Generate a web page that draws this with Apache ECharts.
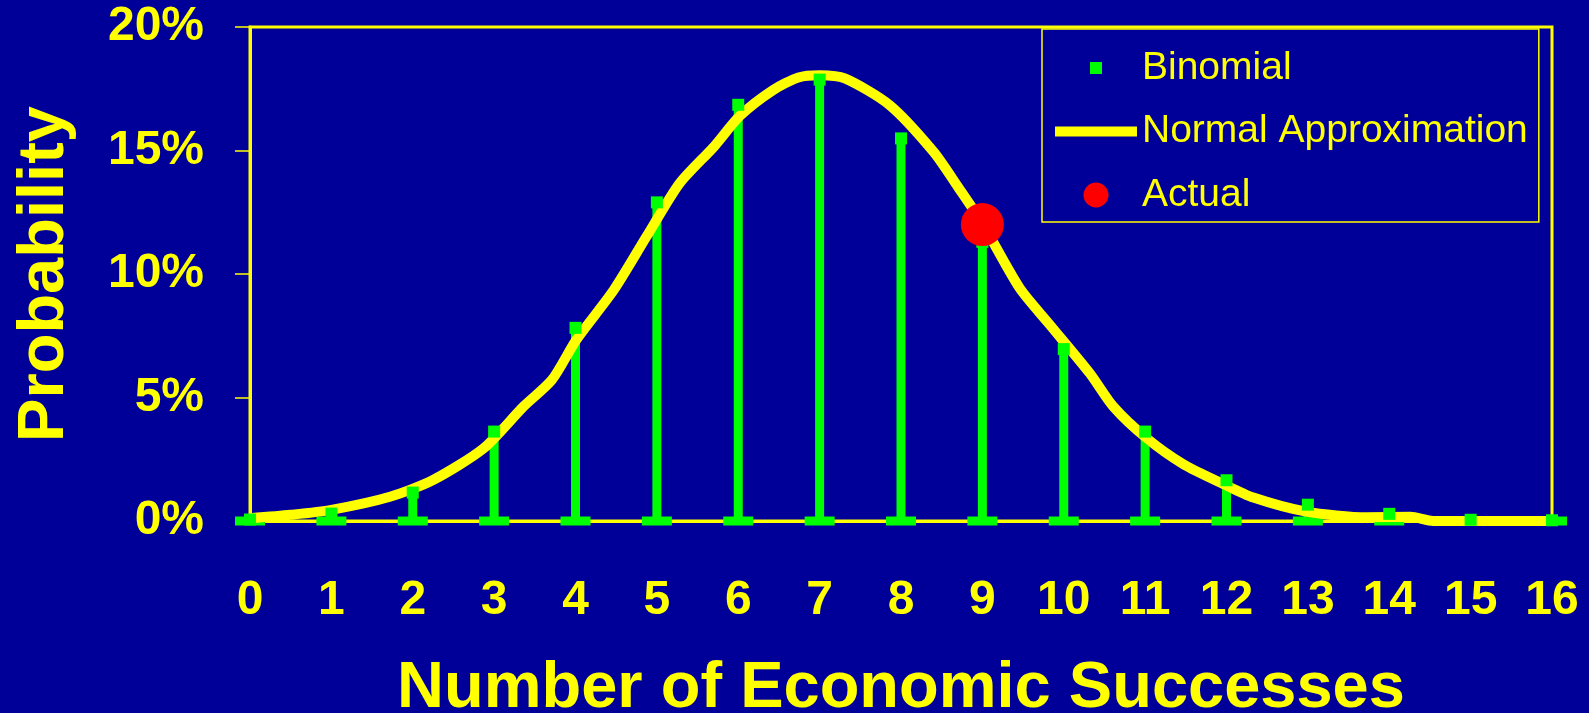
<!DOCTYPE html>
<html>
<head>
<meta charset="utf-8">
<script src="https://cdn.jsdelivr.net/npm/echarts@6/dist/echarts.min.js"></script>
<style>
  html, body { margin: 0; padding: 0; background: #000099; }
  #chart { width: 1589px; height: 713px; }
</style>
</head>
<body>
<div id="chart"></div>
<script>
// ---- data (values in percent) ----
const successes = [0, 1, 2, 3, 4, 5, 6, 7, 8, 9, 10, 11, 12, 13, 14, 15, 16];
const binomial = [0.06, 0.3, 1.15, 3.62, 7.82, 12.9, 16.85, 17.87, 15.49, 11.3, 6.96, 3.62, 1.65, 0.66, 0.29, 0.05, 0.03];
const normalX = [0, 0.5, 1.0, 1.72, 2.25, 2.87, 3.36, 3.71, 4.01, 4.47, 4.87, 5.28, 5.7, 6.02, 6.43, 6.74, 7.0, 7.31, 7.86, 8.4, 8.7, 9.0, 9.46, 9.83, 10.32, 10.61, 11.02, 11.47, 11.96, 12.33, 12.98, 13.72, 14.26, 14.54, 16.31];
const normalY = [0.11, 0.25, 0.45, 0.98, 1.66, 2.94, 4.63, 5.71, 7.33, 9.35, 11.5, 13.67, 15.15, 16.4, 17.45, 17.96, 18.05, 17.92, 16.84, 14.95, 13.53, 12.05, 9.42, 7.94, 5.98, 4.63, 3.35, 2.3, 1.5, 0.95, 0.38, 0.15, 0.17, 0.0, 0.0];
const actualX = [9];
const actualY = [12.0];
const yTicks = [0, 5, 10, 15, 20];

const YELLOW = '#FFFF00', GREEN = '#00FF00', RED = '#FF0000', BG = '#000099';
const FONT = '"Liberation Sans", Arial, sans-serif';

const binomialData = successes.map((x, i) => [x, binomial[i]]);
const normalData = normalX.map((x, i) => [x, normalY[i]]);
const actualData = actualX.map((x, i) => [x, actualY[i]]);

const chart = echarts.init(document.getElementById('chart'), null, { renderer: 'canvas' });

chart.setOption({
  backgroundColor: BG,
  animation: false,
  grid: {
    left: 250, right: 37, top: 27, bottom: 192,
    show: true, borderColor: YELLOW, borderWidth: 3, backgroundColor: 'transparent',
    containLabel: false, outerBoundsMode: 'none'
  },
  legend: {
    orient: 'vertical',
    left: 1042, top: 29,
    padding: [19, 11, 7, 13],
    itemGap: 23.5,
    itemWidth: 82, itemHeight: 26,
    borderColor: YELLOW, borderWidth: 1.5,
    backgroundColor: BG,
    selectedMode: false,
    textStyle: { color: YELLOW, fontSize: 39, fontFamily: FONT, fontWeight: 'normal', lineHeight: 40 },
    data: [
      { name: 'Binomial', icon: 'path://M0,0L0.05,0L0,0.05Z M35,7h12v12h-12Z M82,26L81.95,26L82,25.95Z',
        itemStyle: { color: GREEN, borderWidth: 0, opacity: 1 } },
      { name: 'Normal Approximation', icon: 'path://M0,0L0.05,0L0,0.05Z M0,8h82v10h-82Z M82,26L81.95,26L82,25.95Z',
        itemStyle: { color: YELLOW, borderWidth: 0, opacity: 1 } },
      { name: 'Actual', icon: 'path://M0,0L0.05,0L0,0.05Z M28.5,13A12.5,12.5,0,1,1,53.5,13A12.5,12.5,0,1,1,28.5,13Z M82,26L81.95,26L82,25.95Z',
        itemStyle: { color: RED, borderWidth: 0, opacity: 1 } }
    ]
  },
  xAxis: {
    type: 'value', min: 0, max: 16, interval: 1,
    name: 'Number of Economic Successes',
    nameLocation: 'middle', nameGap: 136,
    nameTextStyle: { color: YELLOW, fontSize: 65, fontWeight: 'bold', fontFamily: FONT },
    axisLine: { show: true, onZero: false, lineStyle: { color: YELLOW, width: 3 } },
    axisTick: { show: false },
    splitLine: { show: false },
    axisLabel: { color: YELLOW, fontSize: 48, fontWeight: 'bold', fontFamily: FONT, margin: 56,
                 formatter: v => String(v) }
  },
  yAxis: {
    type: 'value', min: yTicks[0], max: yTicks[yTicks.length - 1], interval: 5,
    name: 'Probability',
    nameLocation: 'middle', nameGap: 172,
    nameTextStyle: { color: YELLOW, fontSize: 65, fontWeight: 'bold', fontFamily: FONT },
    axisLine: { show: true, lineStyle: { color: YELLOW, width: 3 } },
    axisTick: { show: true, length: 15, lineStyle: { color: YELLOW, width: 1.5 } },
    splitLine: { show: false },
    axisLabel: { color: YELLOW, fontSize: 48, fontWeight: 'bold', fontFamily: FONT, margin: 46,
                 formatter: v => v + '%' }
  },
  series: [
    {
      name: 'stems',
      type: 'custom',
      z: 2,
      clip: false,
      data: binomialData,
      renderItem: function (params, api) {
        const x = api.value(0), y = api.value(1);
        const top = api.coord([x, y]);
        const base = api.coord([x, 0]);
        return {
          type: 'group',
          children: [
            { type: 'rect', shape: { x: base[0] - 4.5, y: top[1], width: 9, height: base[1] - top[1] },
              style: { fill: GREEN } },
            { type: 'rect', shape: { x: base[0] - 15, y: base[1] - 4.5, width: 30, height: 9 },
              style: { fill: GREEN } }
          ]
        };
      }
    },
    {
      name: 'Normal Approximation',
      type: 'line',
      z: 3,
      clip: false,
      data: normalData,
      showSymbol: false,
      symbol: 'none',
      smooth: 0.25,
      color: YELLOW,
      lineStyle: { color: YELLOW, width: 10, opacity: 1 }
    },
    {
      name: 'Binomial',
      type: 'scatter',
      z: 4,
      clip: false,
      data: binomialData,
      symbol: 'rect',
      symbolSize: 12,
      color: GREEN,
      itemStyle: { color: GREEN, opacity: 1 }
    },
    {
      name: 'Actual',
      type: 'scatter',
      z: 5,
      clip: false,
      data: actualData,
      symbol: 'circle',
      symbolSize: 43,
      color: RED,
      itemStyle: { color: RED, opacity: 1 }
    }
  ]
});
</script>
</body>
</html>
